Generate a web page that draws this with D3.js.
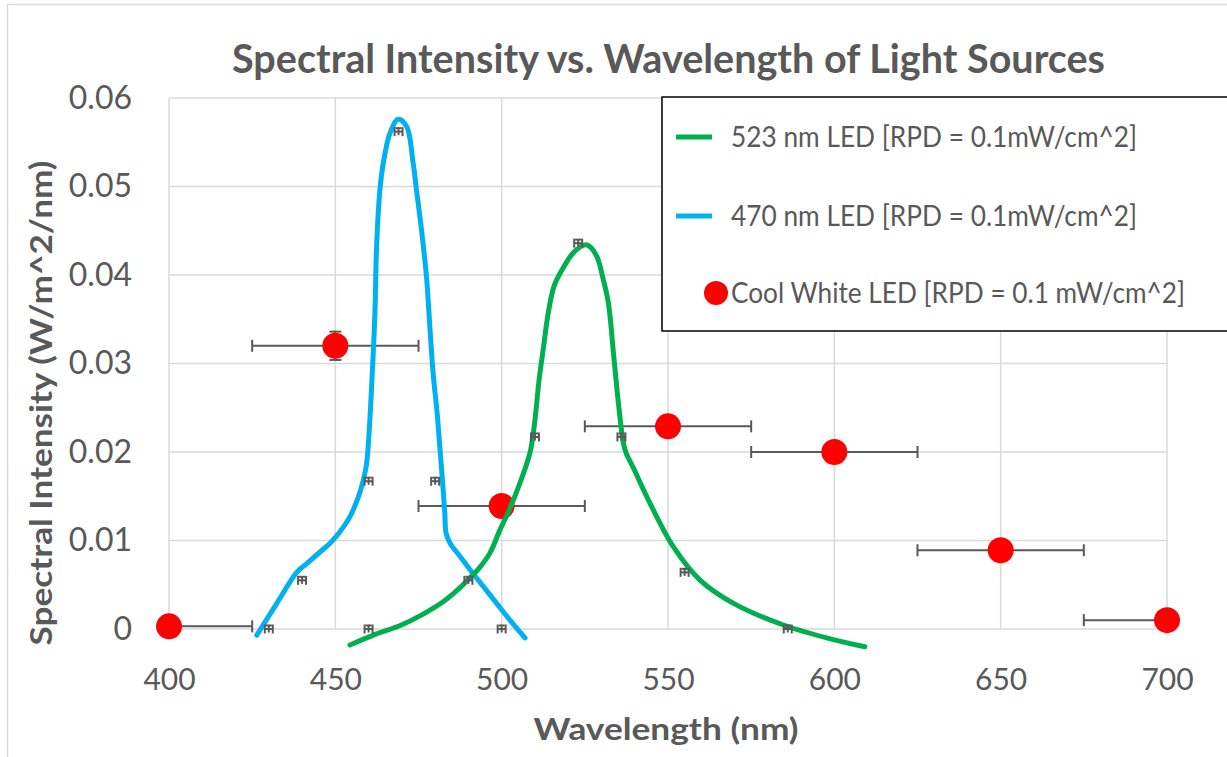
<!DOCTYPE html>
<html>
<head>
<meta charset="utf-8">
<script src="https://cdn.jsdelivr.net/npm/d3@7"></script>
<style>
  html, body { margin: 0; padding: 0; background: #fff; }
  svg { display: block; font-family: Lato, "Open Sans", sans-serif; }
</style>
</head>
<body>
<svg id="chart" width="1227" height="757"></svg>
<script>
// Axis ticks
const xTicks = [400, 450, 500, 550, 600, 650, 700];
const yTicks = [0, 0.01, 0.02, 0.03, 0.04, 0.05, 0.06];

// 523 nm LED spectrum: [wavelength nm, intensity W/m^2/nm]
const greenCurve = [
  [454.4, -0.0018], [462, -0.0006], [469.5, 0.0004], [476, 0.0016], [482.5, 0.0031],
  [487, 0.0045], [490, 0.0056], [493.5, 0.0070], [496.5, 0.0086], [499.5, 0.0112],
  [502, 0.0132], [505, 0.0160], [508.5, 0.0199], [510, 0.0236], [511.2, 0.0280],
  [512.6, 0.0319], [514, 0.0357], [515.8, 0.0388], [518.5, 0.0408], [521.5, 0.0425],
  [525, 0.0434], [526.2, 0.0433], [528.6, 0.0421], [530.6, 0.0394], [532.1, 0.0368],
  [533.6, 0.0312], [535.1, 0.0255], [536.6, 0.0210], [537.4, 0.0199], [539.6, 0.0182],
  [544.6, 0.0142], [551.6, 0.0093], [559.7, 0.0055], [569.7, 0.0029], [584.7, 0.00045],
  [599.7, -0.0012], [609.2, -0.0020]
];

// 470 nm LED spectrum
const blueCurve = [
  [426.4, -0.0007], [432.4, 0.0029], [438.4, 0.0064], [441.4, 0.0074], [445.4, 0.0087],
  [448.4, 0.0097], [451.4, 0.0110], [454.4, 0.0127], [456.9, 0.0149], [458.4, 0.0168],
  [459.4, 0.0187], [460.2, 0.0225], [461.0, 0.0281], [461.9, 0.0357], [462.4, 0.0432],
  [463.4, 0.0496], [464.4, 0.0526], [466.4, 0.0560], [468.9, 0.0576], [471.4, 0.0568],
  [473.4, 0.0526], [474.4, 0.0496], [475.9, 0.0451], [477.4, 0.0398], [478.4, 0.0342],
  [479.4, 0.0289], [480.6, 0.0244], [481.4, 0.0206], [482.2, 0.0168], [482.9, 0.0131],
  [483.3, 0.0108], [484.5, 0.0097], [487.5, 0.0082], [490.5, 0.0067], [494.5, 0.0048],
  [498.5, 0.0029], [502.5, 0.0010], [507, -0.0010]
];

// Measured points with small error bars along each LED spectrum
const greenPoints = [[460, 0], [490, 0.0055], [510, 0.0217], [523, 0.0436], [536, 0.0217], [555, 0.0064], [586, 0]];
const bluePoints = [[430, 0], [440, 0.0055], [460, 0.0167], [469, 0.0562], [480, 0.0167], [500, 0]];
const pointXErr = 1.2;
const pointYErr = 0.0004;

// Cool white LED, binned every 50 nm
const whiteWavelength = [400, 450, 500, 550, 600, 650, 700];
const whiteIntensity = [0.0003, 0.0320, 0.0139, 0.0229, 0.0200, 0.0089, 0.0010];
const whiteXErr = 25;
const whiteYErr = [null, 0.0016, null, null, null, null, null];

const seriesNames = [
  "523 nm LED [RPD = 0.1mW/cm^2]",
  "470 nm LED [RPD = 0.1mW/cm^2]",
  "Cool White LED [RPD = 0.1 mW/cm^2]"
];

const GREEN = "#00B050", BLUE = "#00B0F0", RED = "#FF0000";
const TEXT = "#595959", GRID = "#d9d9d9", BAR = "#595959";

const svg = d3.select("#chart");

const x = d3.scaleLinear().domain([400, 700]).range([169, 1167]);
const y = d3.scaleLinear().domain([0, 0.06]).range([629, 98]);

// Chart frame
svg.append("rect")
  .attr("x", 7.5).attr("y", 4.5).attr("width", 1300).attr("height", 800)
  .attr("fill", "none").attr("stroke", GRID).attr("stroke-width", 1.5);

// Title
svg.append("text")
  .attr("x", 668.5).attr("y", 73)
  .attr("text-anchor", "middle")
  .attr("font-size", 40).attr("font-weight", "bold").attr("fill", TEXT)
  .attr("textLength", 873).attr("lengthAdjust", "spacingAndGlyphs")
  .text("Spectral Intensity vs. Wavelength of Light Sources");

// Gridlines
const grid = svg.append("g");
grid.selectAll("line.v").data(xTicks).join("line")
  .attr("x1", d => x(d)).attr("x2", d => x(d))
  .attr("y1", y(0.06)).attr("y2", y(0))
  .attr("stroke", GRID).attr("stroke-width", 1.5);
grid.selectAll("line.h").data(yTicks).join("line")
  .attr("x1", x(400)).attr("x2", x(700))
  .attr("y1", d => y(d)).attr("y2", d => y(d))
  .attr("stroke", GRID).attr("stroke-width", 1.5);

// Axes (labels only, lines come from the grid)
const xAxis = svg.append("g").attr("transform", `translate(0,${y(0) + 50})`)
  .call(d3.axisBottom(x).tickValues(xTicks).tickSize(0).tickFormat(d3.format("d")));
xAxis.select(".domain").remove();
xAxis.selectAll("text").attr("font-size", 30).attr("fill", TEXT)
  .attr("font-family", "Lato, sans-serif").attr("dy", "0.35em").attr("y", 0);

const yAxis = svg.append("g").attr("transform", `translate(${x(400) - 37},0)`)
  .call(d3.axisLeft(y).tickValues(yTicks).tickSize(0)
    .tickFormat(d => d === 0 ? "0" : d.toFixed(2)));
yAxis.select(".domain").remove();
yAxis.selectAll("text").attr("font-size", 32).attr("fill", TEXT)
  .attr("font-family", "Lato, sans-serif").attr("x", 0);

// Axis titles
svg.append("text")
  .attr("x", 666).attr("y", 740)
  .attr("text-anchor", "middle")
  .attr("font-size", 30).attr("font-weight", "bold").attr("fill", TEXT)
  .attr("textLength", 265).attr("lengthAdjust", "spacingAndGlyphs")
  .text("Wavelength (nm)");

svg.append("text")
  .attr("transform", "translate(52,403) rotate(-90)")
  .attr("text-anchor", "middle")
  .attr("font-size", 31).attr("font-weight", "bold").attr("fill", TEXT)
  .attr("textLength", 485).attr("lengthAdjust", "spacingAndGlyphs")
  .text("Spectral Intensity (W/m^2/nm)");

// Cool white error bars, clipped to the plot area
svg.append("clipPath").attr("id", "plotClip")
  .append("rect").attr("x", x(400)).attr("y", y(0.06) - 20)
  .attr("width", x(700) - x(400)).attr("height", y(0) - y(0.06) + 40);

const white = whiteWavelength.map((w, i) => ({ w, v: whiteIntensity[i], ye: whiteYErr[i] }));
const whiteBars = svg.append("g").attr("clip-path", "url(#plotClip)")
  .attr("stroke", BAR).attr("stroke-width", 2).attr("fill", "none");
const capH = 6;
white.forEach(d => {
  const cy = y(d.v), x0 = x(d.w - whiteXErr), x1 = x(d.w + whiteXErr);
  whiteBars.append("line").attr("x1", x0).attr("x2", x1).attr("y1", cy).attr("y2", cy);
  whiteBars.append("line").attr("x1", x0).attr("x2", x0).attr("y1", cy - capH).attr("y2", cy + capH);
  whiteBars.append("line").attr("x1", x1).attr("x2", x1).attr("y1", cy - capH).attr("y2", cy + capH);
  if (d.ye) {
    const y0 = y(d.v + d.ye), y1 = y(d.v - d.ye), cx = x(d.w);
    whiteBars.append("line").attr("x1", cx).attr("x2", cx).attr("y1", y0).attr("y2", y1);
    whiteBars.append("line").attr("x1", cx - capH).attr("x2", cx + capH).attr("y1", y0).attr("y2", y0);
    whiteBars.append("line").attr("x1", cx - capH).attr("x2", cx + capH).attr("y1", y1).attr("y2", y1);
  }
});

svg.append("g").selectAll("circle").data(white).join("circle")
  .attr("cx", d => x(d.w)).attr("cy", d => y(d.v)).attr("r", 13)
  .attr("fill", RED);

// Spectra
const line = d3.line().x(d => x(d[0])).y(d => y(d[1])).curve(d3.curveCatmullRom.alpha(0.5));
svg.append("path").datum(blueCurve).attr("d", line)
  .attr("fill", "none").attr("stroke", BLUE).attr("stroke-width", 5).attr("stroke-linecap", "round");
svg.append("path").datum(greenCurve).attr("d", line)
  .attr("fill", "none").attr("stroke", GREEN).attr("stroke-width", 5).attr("stroke-linecap", "round");

// Small error bars on the measured spectrum points
const pts = svg.append("g").attr("stroke", BAR).attr("stroke-width", 2).attr("fill", "none");
greenPoints.concat(bluePoints).forEach(p => {
  const cx = x(p[0]), cy = y(p[1]);
  const xa = x(p[0] - pointXErr), xb = x(p[0] + pointXErr);
  const ya = y(p[1] + pointYErr), yb = y(p[1] - pointYErr);
  pts.append("line").attr("x1", xa).attr("x2", xb).attr("y1", cy).attr("y2", cy);
  pts.append("line").attr("x1", xa).attr("x2", xa).attr("y1", cy - 4.5).attr("y2", cy + 4.5);
  pts.append("line").attr("x1", xb).attr("x2", xb).attr("y1", cy - 4.5).attr("y2", cy + 4.5);
  pts.append("line").attr("x1", cx).attr("x2", cx).attr("y1", ya).attr("y2", yb);
  pts.append("line").attr("x1", cx - 3).attr("x2", cx + 3).attr("y1", ya).attr("y2", ya);
});

// Legend
const legend = svg.append("g");
legend.append("rect")
  .attr("x", 662).attr("y", 97).attr("width", 600).attr("height", 234)
  .attr("fill", "#fff").attr("stroke", "#000").attr("stroke-width", 1.5);

const legendRows = [
  { name: seriesNames[0], color: GREEN, type: "line", cy: 137, len: 406 },
  { name: seriesNames[1], color: BLUE, type: "line", cy: 216, len: 406 },
  { name: seriesNames[2], color: RED, type: "dot", cy: 293, len: 454 }
];
legendRows.forEach(r => {
  if (r.type === "line") {
    legend.append("line").attr("x1", 676).attr("x2", 712).attr("y1", r.cy).attr("y2", r.cy)
      .attr("stroke", r.color).attr("stroke-width", 5);
  } else {
    legend.append("circle").attr("cx", 716).attr("cy", r.cy).attr("r", 12).attr("fill", r.color);
  }
  legend.append("text")
    .attr("x", 731).attr("y", r.cy).attr("dy", "0.36em")
    .attr("font-size", 28).attr("fill", TEXT)
    .attr("textLength", r.len).attr("lengthAdjust", "spacingAndGlyphs")
    .text(r.name);
});
</script>
</body>
</html>
